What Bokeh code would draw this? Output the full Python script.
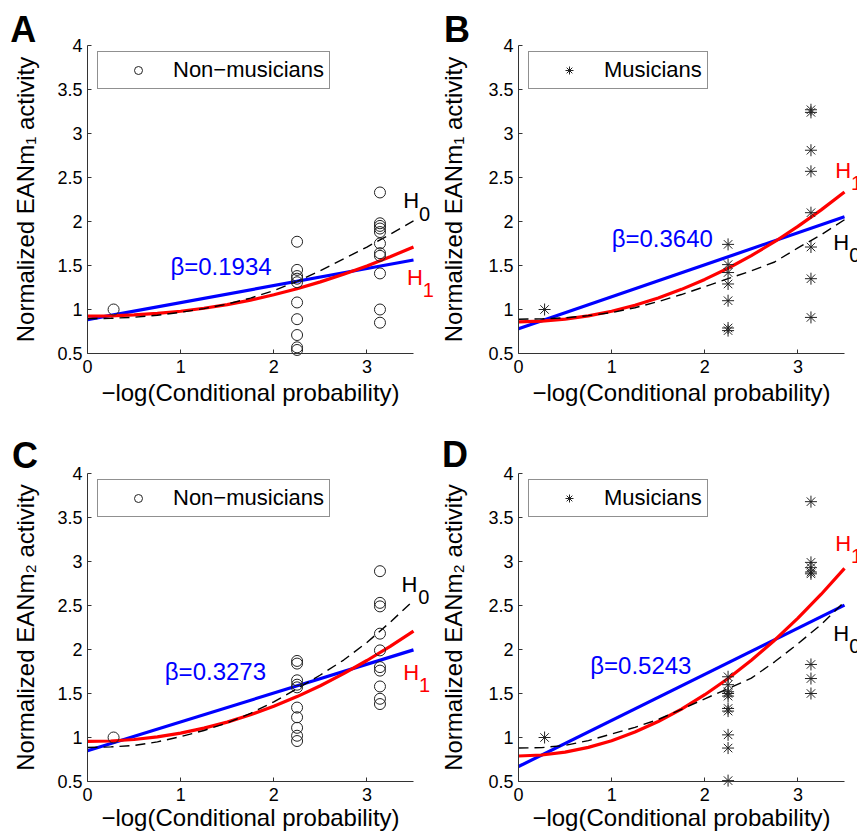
import math
from bokeh.plotting import figure
from bokeh.models import (Range1d, FixedTicker, NumeralTickFormatter, Label,
                          Legend, LegendItem)
from bokeh.layouts import gridplot
from bokeh.embed import file_html
from bokeh.resources import INLINE

FONT = "Liberation Sans"

# ---------------- data ----------------
x_levels = [0.28, 2.25, 3.14]
x_ticks = [0, 1, 2, 3]
y_ticks = [0.5, 1, 1.5, 2, 2.5, 3, 3.5, 4]
curve_x = [0, 0.25, 0.5, 0.75, 1.0, 1.25, 1.5, 1.75, 2.0, 2.25, 2.5, 2.75, 3.0, 3.25, 3.5]
line_x = [0, 3.5]

# Panel A: non-musicians, EANm1
a_low = [1.0]
a_mid = [1.77, 1.45, 1.38, 1.35, 1.31, 1.08, 0.89, 0.71, 0.57, 0.54]
a_high = [2.33, 1.98, 1.95, 1.92, 1.88, 1.75, 1.64, 1.61, 1.41, 1.00, 0.85]
a_blue = [0.885, 1.562]
a_h1 = [0.924, 0.928, 0.938, 0.955, 0.980, 1.014, 1.056, 1.107, 1.167, 1.236, 1.314, 1.400, 1.495, 1.599, 1.711]
a_h0 = [0.895, 0.900, 0.912, 0.935, 0.968, 1.010, 1.062, 1.130, 1.215, 1.320, 1.440, 1.575, 1.710, 1.855, 2.006]
a_beta = "β=0.1934"

# Panel B: musicians, EANm1
b_low = [1.0]
b_mid = [1.74, 1.51, 1.42, 1.29, 1.10, 0.79, 0.76]
b_high = [3.27, 3.24, 2.81, 2.57, 2.10, 1.71, 1.35, 0.91]
b_blue = [0.78, 2.054]
b_h1 = [0.860, 0.868, 0.890, 0.928, 0.980, 1.048, 1.131, 1.229, 1.342, 1.469, 1.613, 1.770, 1.944, 2.132, 2.335]
b_h0 = [0.890, 0.893, 0.905, 0.930, 0.965, 1.020, 1.090, 1.170, 1.260, 1.350, 1.440, 1.540, 1.700, 1.850, 2.020]
b_beta = "β=0.3640"

# Panel C: non-musicians, EANm2
c_low = [1.0]
c_mid = [1.87, 1.84, 1.65, 1.60, 1.57, 1.34, 1.23, 1.11, 1.02, 0.96]
c_high = [2.89, 2.53, 2.49, 2.18, 1.99, 1.80, 1.76, 1.58, 1.44, 1.38]
c_blue = [0.85, 1.996]
c_h1 = [0.955, 0.960, 0.977, 1.007, 1.050, 1.106, 1.175, 1.258, 1.355, 1.465, 1.588, 1.725, 1.875, 2.035, 2.208]
c_h0 = [0.887, 0.893, 0.910, 0.950, 1.010, 1.080, 1.165, 1.275, 1.405, 1.555, 1.710, 1.880, 2.080, 2.310, 2.557]
c_beta = "β=0.3273"

# Panel D: musicians, EANm2
d_low = [1.0]
d_mid = [1.69, 1.60, 1.52, 1.50, 1.47, 1.33, 1.30, 1.03, 0.88, 0.51]
d_high = [3.68, 2.99, 2.93, 2.88, 2.86, 1.83, 1.67, 1.50]
d_blue = [0.67, 2.505]
d_h1 = [0.790, 0.801, 0.834, 0.888, 0.964, 1.062, 1.182, 1.323, 1.486, 1.671, 1.878, 2.106, 2.356, 2.628, 2.922]
d_h0 = [0.880, 0.885, 0.910, 0.965, 1.040, 1.115, 1.205, 1.320, 1.440, 1.555, 1.675, 1.860, 2.065, 2.285, 2.543]
d_beta = "β=0.5243"

x_label = "−log(Conditional probability)"
y_label_1 = "Normalized EANm₁ activity"
y_label_2 = "Normalized EANm₂ activity"

# ---------------- layout ----------------
X0, X1, Y0, Y1 = 0, 3.5, 0.5, 4      # axis extents
AW, AH = 326, 308                    # axis box size in px
PX = AW / (X1 - X0)
PY = AH / (Y1 - Y0)


def txt(p, x, y, text, color="black", size=22, style="normal",
        align="left", angle=0.0):
    # (x, y) is the text baseline anchor; shift to the text's middle line
    shift = 0.35 * size
    if angle == 0.0:
        y = y + shift / PY
    else:
        x = x - shift / PX
    p.add_layout(Label(x=x, y=y, text=text, text_color=color, text_font=FONT,
                       text_font_size=f"{size}px", text_font_style=style,
                       text_align=align, text_baseline="middle", angle=angle))


def make_panel(W, H, left, top, letter, letter_xy, low, mid, high, blue, h1, h0,
               beta_txt, beta_xy, h0_pos, h1_pos, marker, msize, legend_txt,
               ylabel, ylabel_x, xlabel_y):
    bottom_gap = H - top - AH
    xr = Range1d(X0 - left / PX, X0 + (W - left) / PX)
    yr = Range1d(Y0 - bottom_gap / PY, Y1 + top / PY)
    p = figure(width=W, height=H, x_range=xr, y_range=yr,
               output_backend="svg", toolbar_location=None, min_border=0)
    p.outline_line_color = None
    p.xgrid.visible = False
    p.ygrid.visible = False
    p.background_fill_color = "white"
    p.border_fill_color = "white"

    p.line(line_x, blue, line_color="#0000ff", line_width=3.2)
    p.line(curve_x, h1, line_color="#ff0000", line_width=3.2)
    p.line(curve_x, h0, line_color="black", line_width=1.4, line_dash="10 6")

    xs = [x_levels[0]] * len(low) + [x_levels[1]] * len(mid) + [x_levels[2]] * len(high)
    ys = low + mid + high
    r = p.scatter(xs, ys, marker=marker, size=msize, fill_color=None,
                  line_color="#222222", line_width=1)

    leg = Legend(items=[LegendItem(label=legend_txt, renderers=[r])],
                 location=(left + 10, H - (top + 9) - 35),
                 label_text_font=FONT,
                 label_text_font_size="22px", label_text_color="black",
                 border_line_color="#222222", border_line_width=1,
                 padding=5, margin=0, glyph_width=70, glyph_height=20,
                 label_standoff=0, spacing=0,
                 background_fill_color="white", background_fill_alpha=1)
    p.add_layout(leg)

    for ax in (p.xaxis[0], p.yaxis[0]):
        ax.axis_line_color = "#333333"
        ax.axis_line_width = 1
        ax.major_tick_line_color = "#333333"
        ax.major_tick_in = 4
        ax.major_tick_out = 0
        ax.minor_tick_line_color = None
        ax.major_label_text_font = FONT
        ax.major_label_text_font_size = "18px"
        ax.major_label_text_color = "black"
        ax.formatter = NumeralTickFormatter(format="0.[0]")
    p.xaxis.ticker = FixedTicker(ticks=x_ticks)
    p.yaxis.ticker = FixedTicker(ticks=y_ticks)
    p.xaxis.fixed_location = Y0
    p.yaxis.fixed_location = X0
    p.xaxis.bounds = (X0, X1)
    p.yaxis.bounds = (Y0, Y1)
    p.xaxis.major_label_standoff = 6
    p.yaxis.major_label_standoff = 5

    txt(p, (X0 + X1) / 2, xlabel_y, x_label, size=24, align="center")
    txt(p, ylabel_x, (Y0 + Y1) / 2, ylabel, size=24, align="center",
        angle=math.pi / 2)
    txt(p, beta_xy[0], beta_xy[1], beta_txt, color="#0000ff", size=24)
    for (hx, hy, sx, sy), sub, col in ((h0_pos, "0", "black"), (h1_pos, "1", "#ff0000")):
        txt(p, hx, hy, "H", color=col, size=22)
        txt(p, sx, sy, sub, color=col, size=20)
    txt(p, letter_xy[0], letter_xy[1], letter, size=36, style="bold")
    return p


pa = make_panel(438, 436, 87, 45, "A", (-0.83, 4.034), a_low, a_mid, a_high, a_blue, a_h1, a_h0,
                a_beta, (0.89, 1.397), (3.39, 2.15, 3.56, 2.01), (3.43, 1.276, 3.60, 1.14),
                "circle", 11, "Non−musicians", y_label_1, -0.58, -0.034)
pb = make_panel(419, 436, 80, 45, "B", (-0.80, 4.034), b_low, b_mid, b_high, b_blue, b_h1, b_h0,
                b_beta, (1.0, 1.71), (3.38, 1.673, 3.55, 1.537), (3.40, 2.49, 3.57, 2.354),
                "asterisk", 12, "Musicians", y_label_1, -0.61, -0.034)
pc = make_panel(438, 401, 87, 37, "C", (-0.81, 4.06), c_low, c_mid, c_high, c_blue, c_h1, c_h0,
                c_beta, (0.83, 1.654), (3.37, 2.65, 3.55, 2.52), (3.39, 1.646, 3.56, 1.513),
                "circle", 11, "Non−musicians", y_label_2, -0.58, 0.0)
pd_ = make_panel(419, 401, 80, 37, "D", (-0.82, 4.075), d_low, d_mid, d_high, d_blue, d_h1, d_h0,
                 d_beta, (0.77, 1.72), (3.38, 2.10, 3.55, 1.96), (3.40, 3.118, 3.57, 2.98),
                 "asterisk", 12, "Musicians", y_label_2, -0.61, 0.0)

grid = gridplot([[pa, pb], [pc, pd_]], toolbar_location=None)

open("out.html", "w").write(file_html(grid, INLINE))
